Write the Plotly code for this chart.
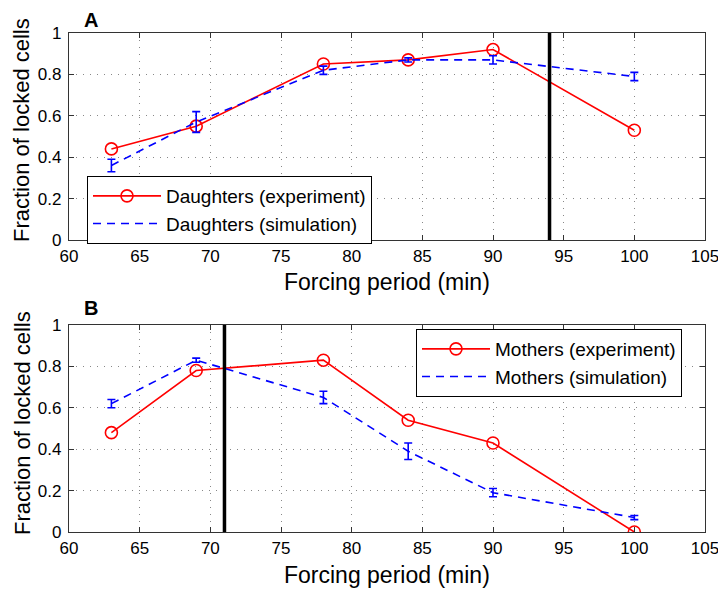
import plotly.graph_objects as go

# forcing periods (min)
periods = [63, 69, 78, 84, 90, 100]

# panel A: daughters
daughters_exp = [0.44, 0.55, 0.85, 0.87, 0.92, 0.53]
daughters_sim = [0.36, 0.57, 0.82, 0.87, 0.87, 0.79]
daughters_sim_err = [0.03, 0.05, 0.02, 0.01, 0.02, 0.02]
daughters_line = 94

# panel B: mothers
mothers_exp = [0.48, 0.78, 0.83, 0.54, 0.43, 0.0]
mothers_sim = [0.62, 0.83, 0.65, 0.39, 0.19, 0.07]
mothers_sim_err = [0.02, 0.01, 0.03, 0.04, 0.02, 0.01]
mothers_line = 71

x_ticks = [60, 65, 70, 75, 80, 85, 90, 95, 100, 105]
y_ticks = [0, 0.2, 0.4, 0.6, 0.8, 1]
y_ticktext = ["0", "0.2", "0.4", "0.6", "0.8", "1"]

FONT = "Liberation Sans, Arial, Helvetica, sans-serif"
RED = "#ff0000"
BLUE = "#0000ff"

W, H = 726, 593
OFF = 8  # page body margin


def px(x):
    return (x - OFF) / W


def py(y):
    return 1 - (y - OFF) / H


xdom = [px(69), px(705)]
ydom_a = [py(240), py(33)]
ydom_b = [py(532), py(325)]

fig = go.Figure()


def add_panel(fig, xa, ya, legend, exp, sim, err, name):
    fig.add_trace(go.Scatter(
        x=periods, y=exp, mode="lines+markers",
        line=dict(color=RED, width=1.6),
        marker=dict(symbol="circle-open", size=12, color=RED, line=dict(width=1.6)),
        name=f"{name} (experiment)", xaxis=xa, yaxis=ya, legend=legend,
    ))
    fig.add_trace(go.Scatter(
        x=periods, y=sim, mode="lines",
        line=dict(color=BLUE, width=1.6, dash="8px,6px"),
        error_y=dict(type="data", array=err, color=BLUE, thickness=1.6, width=4),
        name=f"{name} (simulation)", xaxis=xa, yaxis=ya, legend=legend,
    ))


add_panel(fig, "x", "y", "legend", daughters_exp, daughters_sim, daughters_sim_err, "Daughters")
add_panel(fig, "x2", "y2", "legend2", mothers_exp, mothers_sim, mothers_sim_err, "Mothers")

# vertical threshold lines
fig.add_trace(go.Scatter(x=[daughters_line, daughters_line], y=[0, 1], mode="lines",
                         line=dict(color="black", width=3.5), showlegend=False,
                         xaxis="x", yaxis="y"))
fig.add_trace(go.Scatter(x=[mothers_line, mothers_line], y=[0, 1], mode="lines",
                         line=dict(color="black", width=3.5), showlegend=False,
                         xaxis="x2", yaxis="y2"))

xaxis_style = dict(
    range=[60, 105], tickvals=x_ticks, ticks="inside", ticklen=5, tickcolor="#333",
    showline=True, linecolor="#333", linewidth=1.2, mirror="ticks",
    showgrid=True, gridcolor="#888", griddash="1px,6px", gridwidth=1,
    zeroline=False, tickfont=dict(size=17, color="black"), domain=xdom,
    automargin=False,
)
yaxis_style = dict(
    range=[0, 1], tickvals=y_ticks, ticktext=y_ticktext, ticks="inside", ticklen=5,
    tickcolor="#333", showline=True, linecolor="#333", linewidth=1.2, mirror="ticks",
    showgrid=True, gridcolor="#888", griddash="1px,6px", gridwidth=1,
    zeroline=False, tickfont=dict(size=17, color="black"), ticklabelstandoff=3,
    automargin=False,
)

legend_style = dict(
    bgcolor="white", bordercolor="black", borderwidth=1,
    font=dict(size=19, family=FONT, color="black"), itemwidth=68,
    tracegroupgap=0,
)

fig.update_layout(
    width=W, height=H,
    margin=dict(l=0, r=0, t=0, b=0, autoexpand=False),
    paper_bgcolor="white", plot_bgcolor="white",
    font=dict(family=FONT, color="black"),
    xaxis=dict(**xaxis_style, anchor="y"),
    yaxis=dict(**yaxis_style, domain=ydom_a, anchor="x"),
    xaxis2=dict(**xaxis_style, anchor="y2"),
    yaxis2=dict(**yaxis_style, domain=ydom_b, anchor="x2"),
    legend=dict(**legend_style, x=px(87), y=py(176), xanchor="left", yanchor="top"),
    legend2=dict(**legend_style, x=px(682), y=py(329), xanchor="right", yanchor="top"),
)

annotations = [
    dict(text="<b>A</b>", x=px(82), y=py(20), xanchor="left", yanchor="middle", font=dict(size=20)),
    dict(text="<b>B</b>", x=px(82), y=py(308), xanchor="left", yanchor="middle", font=dict(size=20)),
    dict(text="Forcing period (min)", x=px(387), y=py(282), xanchor="center", yanchor="middle", font=dict(size=23)),
    dict(text="Forcing period (min)", x=px(387), y=py(575), xanchor="center", yanchor="middle", font=dict(size=23)),
    dict(text="Fraction of locked cells", x=px(22), y=py(130), textangle=-90, xanchor="center", yanchor="middle", font=dict(size=22)),
    dict(text="Fraction of locked cells", x=px(22), y=py(423), textangle=-90, xanchor="center", yanchor="middle", font=dict(size=22)),
]
for a in annotations:
    fig.add_annotation(xref="paper", yref="paper", showarrow=False, **a)

fig.write_html("out.html")
